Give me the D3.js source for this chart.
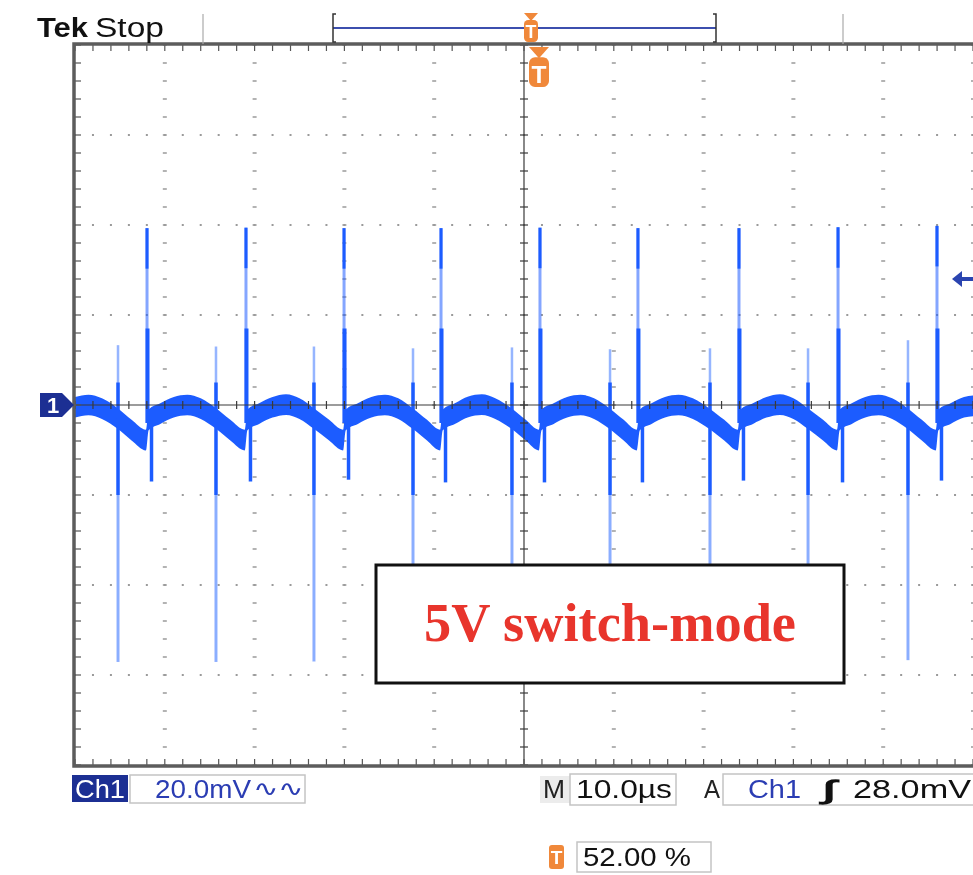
<!DOCTYPE html>
<html><head><meta charset="utf-8">
<script src="https://cdn.jsdelivr.net/npm/d3@7"></script>
<style>html,body{margin:0;padding:0;background:#fff;} svg{display:block}</style>
</head><body>
<svg id="c" width="973" height="875"></svg>
<script>
// ---------------- data ----------------
const timeDomain = [0, 100];      // µs : 10 divisions × 10.0 µs
const voltDomain = [-80, 80];     // mV : 8 divisions × 20.0 mV
const timeDiv = 10, voltDiv = 20, minorPerDiv = 5;

// band centre of the ripple trace [time µs, mV]
const baseline = [
  [0.0,-0.5],[1.5,0.0],[3.0,-0.8],[4.75,-3.0],[6.3,-5.6],[7.9,-7.8],
  [8.2,-3.3],[9.5,-1.9],[11.0,-0.5],[12.5,0.0],[14.0,-0.8],[15.7,-3.0],[17.3,-5.6],[18.9,-7.8],
  [19.2,-3.3],[20.5,-1.9],[22.0,-0.5],[23.5,0.1],[25.0,-0.8],[26.6,-3.0],[28.3,-5.6],[29.85,-7.8],
  [30.15,-3.3],[31.5,-1.9],[33.0,-0.5],[34.5,0.0],[36.0,-0.8],[37.6,-3.0],[39.2,-5.6],[40.65,-7.8],
  [40.95,-3.3],[42.3,-1.9],[43.8,-0.4],[45.3,0.1],[46.8,-0.8],[48.6,-3.0],[50.2,-5.6],[51.65,-7.8],
  [51.95,-3.3],[53.3,-1.9],[54.8,-0.5],[56.3,0.0],[57.8,-0.8],[59.5,-3.0],[61.1,-5.6],[62.55,-7.8],
  [62.9,-3.3],[64.2,-1.9],[65.7,-0.5],[67.2,0.0],[68.8,-0.8],[70.6,-3.0],[72.3,-5.6],[73.8,-7.8],
  [74.1,-3.3],[75.5,-1.9],[77.0,-0.5],[78.5,0.1],[80.0,-0.8],[81.6,-3.0],[83.3,-5.6],[84.85,-7.8],
  [85.15,-3.3],[86.5,-1.9],[88.0,-0.5],[89.5,0.0],[91.0,-0.8],[92.7,-3.0],[94.3,-5.6],[95.85,-7.8],
  [96.15,-3.3],[97.5,-1.9],[99.0,-0.5],[100.0,-0.2]
];
const noiseBand = 2.3; // ± mV band thickness

// big switching spikes
const bigSpikeT    = [8.02, 19.04, 29.96, 40.76, 51.78, 62.69, 73.94, 84.97, 95.99];
const bigSpikeHigh = [39.3, 39.4, 39.3, 39.3, 39.4, 39.3, 39.3, 39.5, 39.8];
const bigSpikeLow  = [-17.0, -17.0, -16.6, -17.2, -17.2, -17.2, -16.8, -17.2, -16.8];
// smaller spikes
const smallSpikeT    = [4.79, 15.70, 26.61, 37.64, 48.66, 59.58, 70.71, 81.63, 92.76];
const smallSpikeHigh = [13.3, 13.0, 13.0, 12.6, 12.8, 12.4, 12.6, 12.6, 14.4];
const smallSpikeLow  = [-57.1, -57.1, -57.0, -57.0, -57.0, -57.0, -57.0, -57.0, -56.7];

const triggerLevel = 28.0; // mV
const headerLabels = ["Tek", "Stop"];
const ch1Label = "Ch1", ch1Scale = "20.0mV", bwSymbol = "\u223F\u223F";
const timebaseLabel = "M", timebase = "10.0\u00B5s";
const trigLabel = "A", trigSource = "Ch1", trigSlope = "\u222B", trigLevelText = "28.0mV";
const trigPosText = "52.00 %";
const annotation = "5V switch-mode";

// ---------------- drawing ----------------
const svg = d3.select("#c");
const W = 973, H = 875;
svg.append("rect").attr("width", W).attr("height", H).attr("fill", "#fff");

const x = d3.scaleLinear().domain(timeDomain).range([75, 973]);
const y = d3.scaleLinear().domain(voltDomain).range([765, 45]);

const waveColor = "#1d5cff";
const navy = "#1c2f93";
const orange = "#f0883a";
const gridColor = "#9a9a9a";

const defs = svg.append("defs");
defs.append("filter").attr("id", "soft").attr("x", "-5%").attr("y", "-5%").attr("width", "110%").attr("height", "110%")
  .append("feGaussianBlur").attr("stdDeviation", 0.7);
defs.append("clipPath").attr("id", "plotclip").append("rect")
  .attr("x", x(0)).attr("y", y(80)).attr("width", x(100) - x(0)).attr("height", y(-80) - y(80));

const majorT = d3.range(timeDomain[0], timeDomain[1] + 0.001, timeDiv);
const majorV = d3.range(voltDomain[0], voltDomain[1] + 0.001, voltDiv);
const minorT = d3.range(timeDomain[0], timeDomain[1] + 0.001, timeDiv / minorPerDiv);
const minorV = d3.range(voltDomain[0], voltDomain[1] + 0.001, voltDiv / minorPerDiv);

// dotted graticule
const grid = svg.append("g");
majorT.filter(t => t !== 50 && t !== 0).forEach(t => {
  grid.selectAll(null).data(minorV).join("rect")
    .attr("x", x(t) - 2).attr("y", d => y(d) - 0.75).attr("width", 4).attr("height", 1.5)
    .attr("fill", gridColor);
});
majorV.filter(v => v !== 0 && v !== -80 && v !== 80).forEach(v => {
  grid.selectAll(null).data(minorT).join("rect")
    .attr("x", d => x(d) - 1).attr("y", y(v) - 1).attr("width", 2).attr("height", 2)
    .attr("fill", gridColor);
});

// ---------------- waveform ----------------
const wave = svg.append("g").attr("clip-path", "url(#plotclip)").append("g").attr("filter", "url(#soft)");
const area = d3.area()
  .x(d => x(d[0]))
  .y0(d => y(d[1] - noiseBand))
  .y1(d => y(d[1] + noiseBand))
  .curve(d3.curveMonotoneX);
wave.append("path").datum(baseline).attr("d", area).attr("fill", waveColor);

// big spikes
bigSpikeT.forEach((t, i) => {
  // faint full-height part
  wave.append("line").attr("x1", x(t)).attr("x2", x(t))
    .attr("y1", y(bigSpikeHigh[i])).attr("y2", y(-4))
    .attr("stroke", waveColor).attr("stroke-width", 3).attr("opacity", 0.55);
  // bright tip
  wave.append("line").attr("x1", x(t)).attr("x2", x(t))
    .attr("y1", y(bigSpikeHigh[i])).attr("y2", y(bigSpikeHigh[i] - 9))
    .attr("stroke", waveColor).attr("stroke-width", 3);
  // bright base
  wave.append("line").attr("x1", x(t) + 0.5).attr("x2", x(t) + 0.5)
    .attr("y1", y(17)).attr("y2", y(-4))
    .attr("stroke", waveColor).attr("stroke-width", 4);
  // negative tail
  wave.append("line").attr("x1", x(t + 0.5)).attr("x2", x(t + 0.5))
    .attr("y1", y(-4)).attr("y2", y(bigSpikeLow[i]))
    .attr("stroke", waveColor).attr("stroke-width", 3.5);
});

// small spikes
smallSpikeT.forEach((t, i) => {
  wave.append("line").attr("x1", x(t)).attr("x2", x(t))
    .attr("y1", y(smallSpikeHigh[i])).attr("y2", y(-3))
    .attr("stroke", waveColor).attr("stroke-width", 2.5).attr("opacity", 0.45);
  wave.append("line").attr("x1", x(t)).attr("x2", x(t))
    .attr("y1", y(5)).attr("y2", y(-3))
    .attr("stroke", waveColor).attr("stroke-width", 3.5);
  wave.append("line").attr("x1", x(t)).attr("x2", x(t))
    .attr("y1", y(-3)).attr("y2", y(-20))
    .attr("stroke", waveColor).attr("stroke-width", 3.5);
  wave.append("line").attr("x1", x(t)).attr("x2", x(t))
    .attr("y1", y(-20)).attr("y2", y(smallSpikeLow[i]))
    .attr("stroke", waveColor).attr("stroke-width", 3).attr("opacity", 0.5);
});

// ---------------- centre cross & borders ----------------
const cross = svg.append("g");
cross.append("line").attr("x1", x(0)).attr("x2", x(100)).attr("y1", y(0)).attr("y2", y(0))
  .attr("stroke", "#3a3a3a").attr("stroke-width", 1.2);
cross.append("line").attr("x1", x(50)).attr("x2", x(50)).attr("y1", y(80)).attr("y2", y(-80))
  .attr("stroke", "#3a3a3a").attr("stroke-width", 1.2);
cross.selectAll(null).data(minorT).join("line")
  .attr("x1", d => x(d)).attr("x2", d => x(d)).attr("y1", y(0) - 4).attr("y2", y(0) + 4)
  .attr("stroke", "#3a3a3a").attr("stroke-width", 1.2);
cross.selectAll(null).data(minorV).join("line")
  .attr("x1", x(50) - 4).attr("x2", x(50) + 4).attr("y1", d => y(d)).attr("y2", d => y(d))
  .attr("stroke", "#3a3a3a").attr("stroke-width", 1.2);

// border ticks
cross.selectAll(null).data(minorT).join("line")
  .attr("x1", d => x(d)).attr("x2", d => x(d)).attr("y1", y(80)).attr("y2", y(80) + 6)
  .attr("stroke", "#555").attr("stroke-width", 1.2);
cross.selectAll(null).data(minorT).join("line")
  .attr("x1", d => x(d)).attr("x2", d => x(d)).attr("y1", y(-80)).attr("y2", y(-80) - 6)
  .attr("stroke", "#555").attr("stroke-width", 1.2);
cross.selectAll(null).data(minorV).join("line")
  .attr("x1", x(0)).attr("x2", x(0) + 6).attr("y1", d => y(d)).attr("y2", d => y(d))
  .attr("stroke", "#555").attr("stroke-width", 1.2);

// thick border (top, left, bottom)
const border = svg.append("g").attr("stroke", "#5c5c5c").attr("stroke-width", 3.5).attr("fill", "none");
border.append("path").attr("d", `M${W},${y(80) - 1}H${x(0) - 1}V${y(-80) + 1}H${W}`);

// ---------------- header ----------------
svg.append("text").attr("x", 37).attr("y", 37).text(headerLabels[0])
  .attr("font-family", "Liberation Sans, Arial, sans-serif").attr("font-weight", "bold")
  .attr("font-size", 27).attr("textLength", 51).attr("lengthAdjust", "spacingAndGlyphs").attr("fill", "#111");
svg.append("text").attr("x", 95).attr("y", 37).text(headerLabels[1])
  .attr("font-family", "Liberation Sans, Arial, sans-serif")
  .attr("font-size", 27).attr("textLength", 69).attr("lengthAdjust", "spacingAndGlyphs").attr("fill", "#111");

// record view bar
svg.append("line").attr("x1", 203).attr("x2", 203).attr("y1", 14).attr("y2", 44).attr("stroke", "#aaa").attr("stroke-width", 1.2);
svg.append("line").attr("x1", 843).attr("x2", 843).attr("y1", 14).attr("y2", 44).attr("stroke", "#aaa").attr("stroke-width", 1.2);
const bar = svg.append("g").attr("stroke", "#3c4fae").attr("fill", "none");
bar.append("line").attr("x1", 333).attr("x2", 716).attr("y1", 28).attr("y2", 28).attr("stroke-width", 2);
bar.append("path").attr("d", "M336,14H333V42H336").attr("stroke", "#333").attr("stroke-width", 1.5);
bar.append("path").attr("d", "M713,14H716V42H713").attr("stroke", "#333").attr("stroke-width", 1.5);

function trigMarker(cx, top, w, h) {
  const g = svg.append("g");
  const tri = h * 0.28;
  g.append("path").attr("d", `M${cx - w / 2},${top}H${cx + w / 2}L${cx},${top + tri}Z`).attr("fill", orange);
  g.append("rect").attr("x", cx - w / 2).attr("y", top + tri - 1).attr("width", w).attr("height", h - tri + 1)
    .attr("rx", w * 0.3).attr("fill", orange);
  g.append("text").attr("x", cx).attr("y", top + h - 4).attr("text-anchor", "middle")
    .attr("font-family", "Liberation Sans, Arial, sans-serif").attr("font-weight", "bold")
    .attr("font-size", (h - tri) * 0.85).attr("fill", "#fff").text("T");
}
trigMarker(531, 13, 14, 29);
trigMarker(539, 47, 20, 40);

// channel marker on left
svg.append("path").attr("d", `M40,${y(0) - 12}H62L74,${y(0)}L62,${y(0) + 12}H40Z`).attr("fill", navy);
svg.append("text").attr("x", 53).attr("y", y(0) + 8).attr("text-anchor", "middle")
  .attr("font-family", "Liberation Sans, Arial, sans-serif").attr("font-weight", "bold")
  .attr("font-size", 22).attr("fill", "#fff").text("1");

// trigger level arrow on right
svg.append("path")
  .attr("d", `M952,${y(triggerLevel)}L962,${y(triggerLevel) - 8}V${y(triggerLevel) - 2}H973V${y(triggerLevel) + 2}H962V${y(triggerLevel) + 8}Z`)
  .attr("fill", "#2a44b0");

// ---------------- annotation box ----------------
svg.append("rect").attr("x", 376).attr("y", 565).attr("width", 468).attr("height", 118)
  .attr("fill", "#fff").attr("stroke", "#111").attr("stroke-width", 3);
svg.append("text").attr("x", 610).attr("y", 641).attr("text-anchor", "middle")
  .attr("font-family", "Liberation Serif, 'Times New Roman', serif").attr("font-weight", "bold")
  .attr("font-size", 54).attr("fill", "#e8352c").attr("textLength", 372).attr("lengthAdjust", "spacingAndGlyphs")
  .text(annotation);

// ---------------- status bar ----------------
const sf = "Liberation Sans, Arial, sans-serif";
function box(x0, y0, w, h) {
  svg.append("rect").attr("x", x0).attr("y", y0).attr("width", w).attr("height", h)
    .attr("fill", "#fff").attr("stroke", "#c4c4c4").attr("stroke-width", 1.5);
}
function label(txt, x0, base, len, color, size, weight) {
  const t = svg.append("text").attr("x", x0).attr("y", base).text(txt)
    .attr("font-family", sf).attr("font-size", size || 25).attr("fill", color || "#111");
  if (weight) t.attr("font-weight", weight);
  if (len) t.attr("textLength", len).attr("lengthAdjust", "spacingAndGlyphs");
  return t;
}
svg.append("rect").attr("x", 72).attr("y", 775).attr("width", 56).attr("height", 27).attr("fill", navy);
label(ch1Label, 75, 798, 50, "#fff", 25);
box(130, 775, 175, 28);
label(ch1Scale, 155, 798, 96, "#2b3db3", 25);
label(bwSymbol, 253, 796, 50, "#2b3db3", 22);

svg.append("rect").attr("x", 540).attr("y", 776).attr("width", 30).attr("height", 27).attr("fill", "#ececec");
label(timebaseLabel, 543, 798, 22, "#222", 25);
box(570, 774, 106, 31);
label(timebase, 576, 798, 96, "#111", 25);

label(trigLabel, 704, 798, 16, "#222", 25);
box(723, 774, 255, 31);
label(trigSource, 748, 798, 53, "#2b3db3", 25);
label(trigSlope, 822, 799, 14, "#111", 27, "bold").attr("font-style", "italic");
label(trigLevelText, 853, 798, 118, "#111", 25);

svg.append("rect").attr("x", 549).attr("y", 845).attr("width", 15).attr("height", 24).attr("rx", 3).attr("fill", orange);
svg.append("text").attr("x", 556.5).attr("y", 864).attr("text-anchor", "middle").attr("font-family", sf)
  .attr("font-weight", "bold").attr("font-size", 19).attr("fill", "#fff").text("T");
box(577, 842, 134, 30);
label(trigPosText, 583, 866, 108, "#111", 25);
</script>
</body></html>
